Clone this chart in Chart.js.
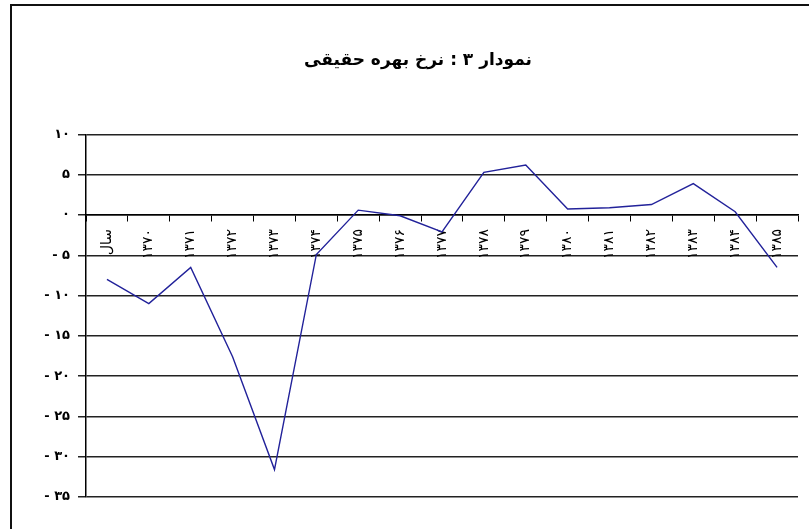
<!DOCTYPE html>
<html lang="fa">
<head>
<meta charset="utf-8">
<title>نمودار ۳ : نرخ بهره حقیقی</title>
<script src="https://cdn.jsdelivr.net/npm/chart.js@4.4.1/dist/chart.umd.min.js"></script>
<style>
  html, body { margin: 0; padding: 0; background: #fff; overflow: hidden; }
  #wrap { position: relative; width: 809px; height: 529px; overflow: hidden; }
  #chart { position: absolute; left: 0; top: 0; }
  #frame {
    position: absolute; left: 10px; top: 4px; width: 900px; height: 700px;
    border: 2px solid #111; pointer-events: none;
  }
</style>
</head>
<body>
<div id="wrap">
  <canvas id="chart" width="826" height="529"></canvas>
  <div id="frame"></div>
</div>
<script>
const chartTitle = "نمودار ۳ : نرخ بهره حقیقی";
const categories = ["سال", "۱۳۷۰", "۱۳۷۱", "۱۳۷۲", "۱۳۷۳", "۱۳۷۴", "۱۳۷۵", "۱۳۷۶", "۱۳۷۷",
  "۱۳۷۸", "۱۳۷۹", "۱۳۸۰", "۱۳۸۱", "۱۳۸۲", "۱۳۸۳", "۱۳۸۴", "۱۳۸۵"];
const realRate = [-8.0, -11.0, -6.5, -17.6, -31.6, -4.9, 0.6, -0.1, -2.1,
  5.3, 6.2, 0.75, 0.9, 1.3, 3.9, 0.4, -6.5];
const yMin = -35;
const yMax = 10;
const yStep = 5;

const faDigits = ["۰", "۱", "۲", "۳", "۴", "۵", "۶", "۷", "۸", "۹"];
function toFa(n) {
  return String(n).replace(/[0-9]/g, (d) => faDigits[+d]);
}

const family = "'DejaVu Sans', sans-serif";

new Chart(document.getElementById("chart"), {
  type: "line",
  data: {
    labels: categories,
    datasets: [
      {
        label: "نرخ بهره حقیقی",
        data: realRate,
        borderColor: "#22229a",
        borderWidth: 1.4,
        pointRadius: 0,
        tension: 0,
        fill: false,
      },
    ],
  },
  options: {
    responsive: false,
    animation: false,
    layout: { padding: { left: 38, right: 28, top: 0, bottom: 32 } },
    plugins: {
      legend: { display: false },
      tooltip: { enabled: false },
      title: {
        display: true,
        text: chartTitle,
        color: "#000",
        font: { family, size: 17, weight: "bold" },
        padding: { top: 50, bottom: 64 },
      },
    },
    scales: {
      x: {
        type: "category",
        position: { y: 0 },
        offset: true,
        grid: { offset: true, drawOnChartArea: false, tickLength: 6, color: "#000", lineWidth: 1 },
        border: { color: "#000", width: 1.5 },
        ticks: {
          color: "#000",
          font: { family, size: 14 },
          minRotation: 90,
          maxRotation: 90,
          padding: 8,
          autoSkip: false,
        },
      },
      y: {
        min: yMin,
        max: yMax,
        afterFit: (scale) => { scale.width = 48; },
        grid: { color: "#222", lineWidth: 1.5, tickLength: 8 },
        border: { color: "#000", width: 1.5 },
        ticks: {
          stepSize: yStep,
          color: "#000",
          font: { family, size: 13, weight: "bold" },
          padding: 8,
          callback: (v) => (v < 0 ? "- " + toFa(-v) : toFa(v)),
        },
      },
    },
  },
});
</script>
</body>
</html>
